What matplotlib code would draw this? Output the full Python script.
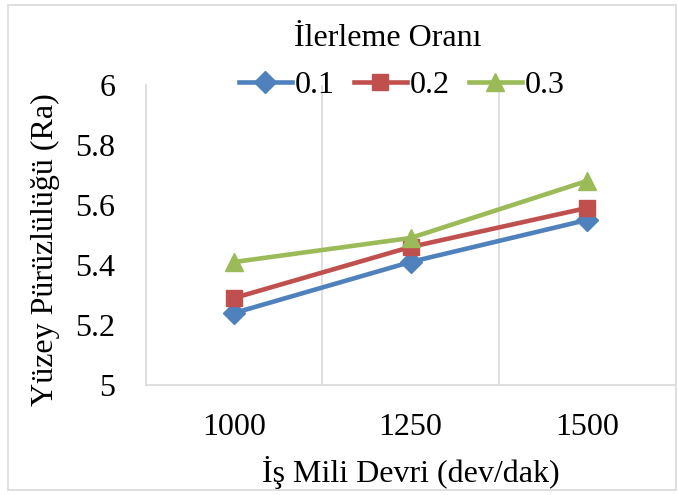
# Surface roughness vs spindle speed for three feed rates
import numpy as np
import matplotlib
matplotlib.use('Agg')
import matplotlib.pyplot as plt
from matplotlib.patches import Rectangle

speeds = ['1000', '1250', '1500']
feed_labels = ['0.1', '0.2', '0.3']
ra_01 = [5.24, 5.41, 5.55]
ra_02 = [5.29, 5.46, 5.59]
ra_03 = [5.41, 5.49, 5.68]
yticks = [5, 5.2, 5.4, 5.6, 5.8, 6]
ytick_labels = ['5', '5.2', '5.4', '5.6', '5.8', '6']

plt.rcParams['font.family'] = ['Liberation Serif', 'DejaVu Serif']

fig = plt.figure(figsize=(6.78, 4.95), dpi=100)
ax = fig.add_axes([146/678, 110/495, 529/678, 300/495])

x = np.arange(len(speeds))
ax.plot(x, ra_01, color='#4F81BD', lw=3.3, marker='D', ms=11, label=feed_labels[0])
ax.plot(x, ra_02, color='#C0504D', lw=3.3, marker='s', ms=11, label=feed_labels[1])
ax.plot(x, ra_03, color='#9BBB59', lw=3.3, marker='^', ms=13, label=feed_labels[2])

ax.set_xlim(-0.5, 2.5)
ax.set_ylim(5, 6)
ax.set_xticks(x)
ax.set_xticklabels(speeds, fontsize=23)
ax.set_yticks(yticks)
ax.set_yticklabels(ytick_labels, fontsize=23)
ax.tick_params(axis='y', length=0, pad=22)
ax.tick_params(axis='x', length=0, pad=20)

for gx in [0.5, 1.5]:
    ax.axvline(gx, color='#D9D9D9', lw=1.2, zorder=0)
for side in ['top', 'right']:
    ax.spines[side].set_visible(False)
for side in ['left', 'bottom']:
    ax.spines[side].set_color('#D9D9D9')
    ax.spines[side].set_linewidth(1.2)

ax.set_xlabel('İş Mili Devri (dev/dak)', fontsize=23, labelpad=10)
ax.set_ylabel('Yüzey Pürüzlülüğü (Ra)', fontsize=23)
ax.yaxis.set_label_coords(-0.163, 0.45)

fig.text(388/678, 1 - 38/495, 'İlerleme Oranı', fontsize=23, ha='center', va='center')
ax.legend(loc='center', bbox_to_anchor=(0.484, 0.998), ncol=3, frameon=False,
          fontsize=23, handlelength=1.65, columnspacing=0.6, handletextpad=0.1,
          borderaxespad=0, borderpad=0)

fig.patches.append(Rectangle((8/678, 5/495), 668/678, 485/495, transform=fig.transFigure,
                             fill=False, edgecolor='#D9D9D9', lw=1.2))

plt.savefig('out.png')
